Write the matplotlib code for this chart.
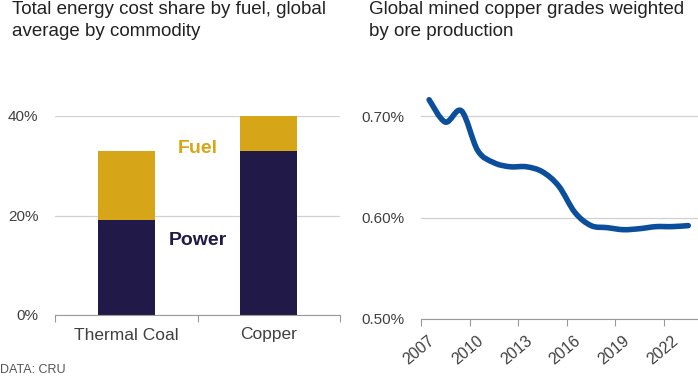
import numpy as np
import matplotlib
matplotlib.use("Agg")
import matplotlib.pyplot as plt
from matplotlib.path import Path
from matplotlib.patches import PathPatch
from matplotlib.ticker import FuncFormatter
import matplotlib.transforms as mtransforms

plt.rcParams['font.family'] = ['Liberation Sans', 'DejaVu Sans']

# --- data -------------------------------------------------------------
commodities = ["Thermal Coal", "Copper"]
power_share = [19, 33]      # % of total energy cost
fuel_share = [14, 7]        # stacked on top of power

grade_years = [2007.5, 2008.5, 2009.5, 2010.5, 2011.5, 2012.5, 2013.5, 2014.5,
               2015.5, 2016.5, 2017.5, 2018.5, 2019.5, 2020.5, 2021.5, 2022.5, 2023.5]
grade_pct = [0.716, 0.694, 0.705, 0.666, 0.654, 0.650, 0.650, 0.645,
             0.631, 0.605, 0.592, 0.590, 0.588, 0.589, 0.591, 0.591, 0.592]
year_ticks = [2007, 2010, 2013, 2016, 2019, 2022]

POWER = "#211a48"
FUEL = "#d6a618"
LINE = "#0b4f9c"
TXT = "#222222"
TICK = "#404040"
GRID = "#d0d0d0"
AXIS = "#9a9a9a"

W, H = 698, 376
fig = plt.figure(figsize=(W / 100, H / 100), dpi=100)


def box(x0, x1, y_bottom, y_top):
    return [x0 / W, 1 - y_bottom / H, (x1 - x0) / W, (y_bottom - y_top) / H]


def smooth_path(xs, ys):
    # catmull-rom through the points, drawn as cubic beziers
    xs = np.asarray(xs, float)
    ys = np.asarray(ys, float)
    pts = np.column_stack([xs, ys])
    verts = [pts[0]]
    codes = [Path.MOVETO]
    n = len(pts)
    for i in range(n - 1):
        p0 = pts[i - 1] if i > 0 else pts[i]
        p1 = pts[i]
        p2 = pts[i + 1]
        p3 = pts[i + 2] if i + 2 < n else pts[i + 1]
        c1 = p1 + (p2 - p0) / 6.0
        c2 = p2 - (p3 - p1) / 6.0
        verts += [c1, c2, p2]
        codes += [Path.CURVE4] * 3
    return Path(verts, codes)


# --- left: stacked bars ----------------------------------------------
ax1 = fig.add_axes(box(55, 340, 315, 116))
x = np.arange(len(commodities))
ax1.bar(x, power_share, width=0.4, color=POWER, zorder=3)
ax1.bar(x, fuel_share, width=0.4, bottom=power_share, color=FUEL, zorder=3)
ax1.set_xlim(-0.5, 1.5)
ax1.set_ylim(0, 40)
ax1.set_yticks([0, 20, 40])
ax1.yaxis.set_major_formatter(FuncFormatter(lambda v, p: f"{v:.0f}%"))
ax1.set_xticks(x)
ax1.set_xticklabels(commodities)
ax1.set_xticks([-0.5, 0.5, 1.5], minor=True)
ax1.tick_params(axis='x', which='major', length=0, pad=9, labelsize=12.5, labelcolor=TICK)
ax1.tick_params(axis='x', which='minor', length=5, color=AXIS, width=0.8)
ax1.tick_params(axis='y', length=0, pad=12, labelsize=11, labelcolor=TICK)
ax1.grid(axis='y', color=GRID, linewidth=0.9, zorder=0)
for s in ['top', 'right', 'left']:
    ax1.spines[s].set_visible(False)
ax1.spines['bottom'].set_color(AXIS)
ax1.spines['bottom'].set_zorder(4)
ax1.text(0.5, 33.4, "Fuel", color=FUEL, fontsize=14, fontweight='bold',
         ha='center', va='center')
ax1.text(0.5, 15.0, "Power", color=POWER, fontsize=14, fontweight='bold',
         ha='center', va='center')

# --- right: ore grade line -------------------------------------------
ax2 = fig.add_axes(box(421, 698, 319, 319 - 0.22 * 1015))
ax2.set_xlim(2007, 2024.1)
ax2.set_ylim(0.50, 0.72)
ax2.add_patch(PathPatch(smooth_path(grade_years, grade_pct), facecolor='none',
                        edgecolor=LINE, linewidth=4, capstyle='round',
                        joinstyle='round', zorder=3, clip_on=False))
ax2.set_yticks([0.50, 0.60, 0.70])
ax2.yaxis.set_major_formatter(FuncFormatter(lambda v, p: f"{v:.2f}%"))
ax2.set_xticks(year_ticks)
ax2.set_xticklabels([str(y) for y in year_ticks], rotation=40, ha='right',
                    rotation_mode='anchor')
ax2.tick_params(axis='x', length=5, color=AXIS, width=0.8, pad=5,
                labelsize=11.5, labelcolor=TICK)
ax2.tick_params(axis='y', length=0, pad=12, labelsize=11, labelcolor=TICK)
offset = mtransforms.ScaledTranslation(7 / 100, 0, fig.dpi_scale_trans)
for lab in ax2.get_xticklabels():
    lab.set_transform(lab.get_transform() + offset)
ax2.grid(axis='y', color=GRID, linewidth=0.9, zorder=0)
for s in ['top', 'right', 'left']:
    ax2.spines[s].set_visible(False)
ax2.spines['bottom'].set_color(AXIS)

# --- titles and source ------------------------------------------------
fig.text(12 / W, 1 - 1 / H, "Total energy cost share by fuel, global\naverage by commodity",
         fontsize=13.5, color=TXT, ha='left', va='top', linespacing=1.4)
fig.text(369 / W, 1 - 1 / H, "Global mined copper grades weighted\nby ore production",
         fontsize=13.5, color=TXT, ha='left', va='top', linespacing=1.4)
fig.text(0, 1 - 370 / H, "DATA: CRU", fontsize=9, color="#555555",
         ha='left', va='center')

fig.savefig("out.png", dpi=100)
